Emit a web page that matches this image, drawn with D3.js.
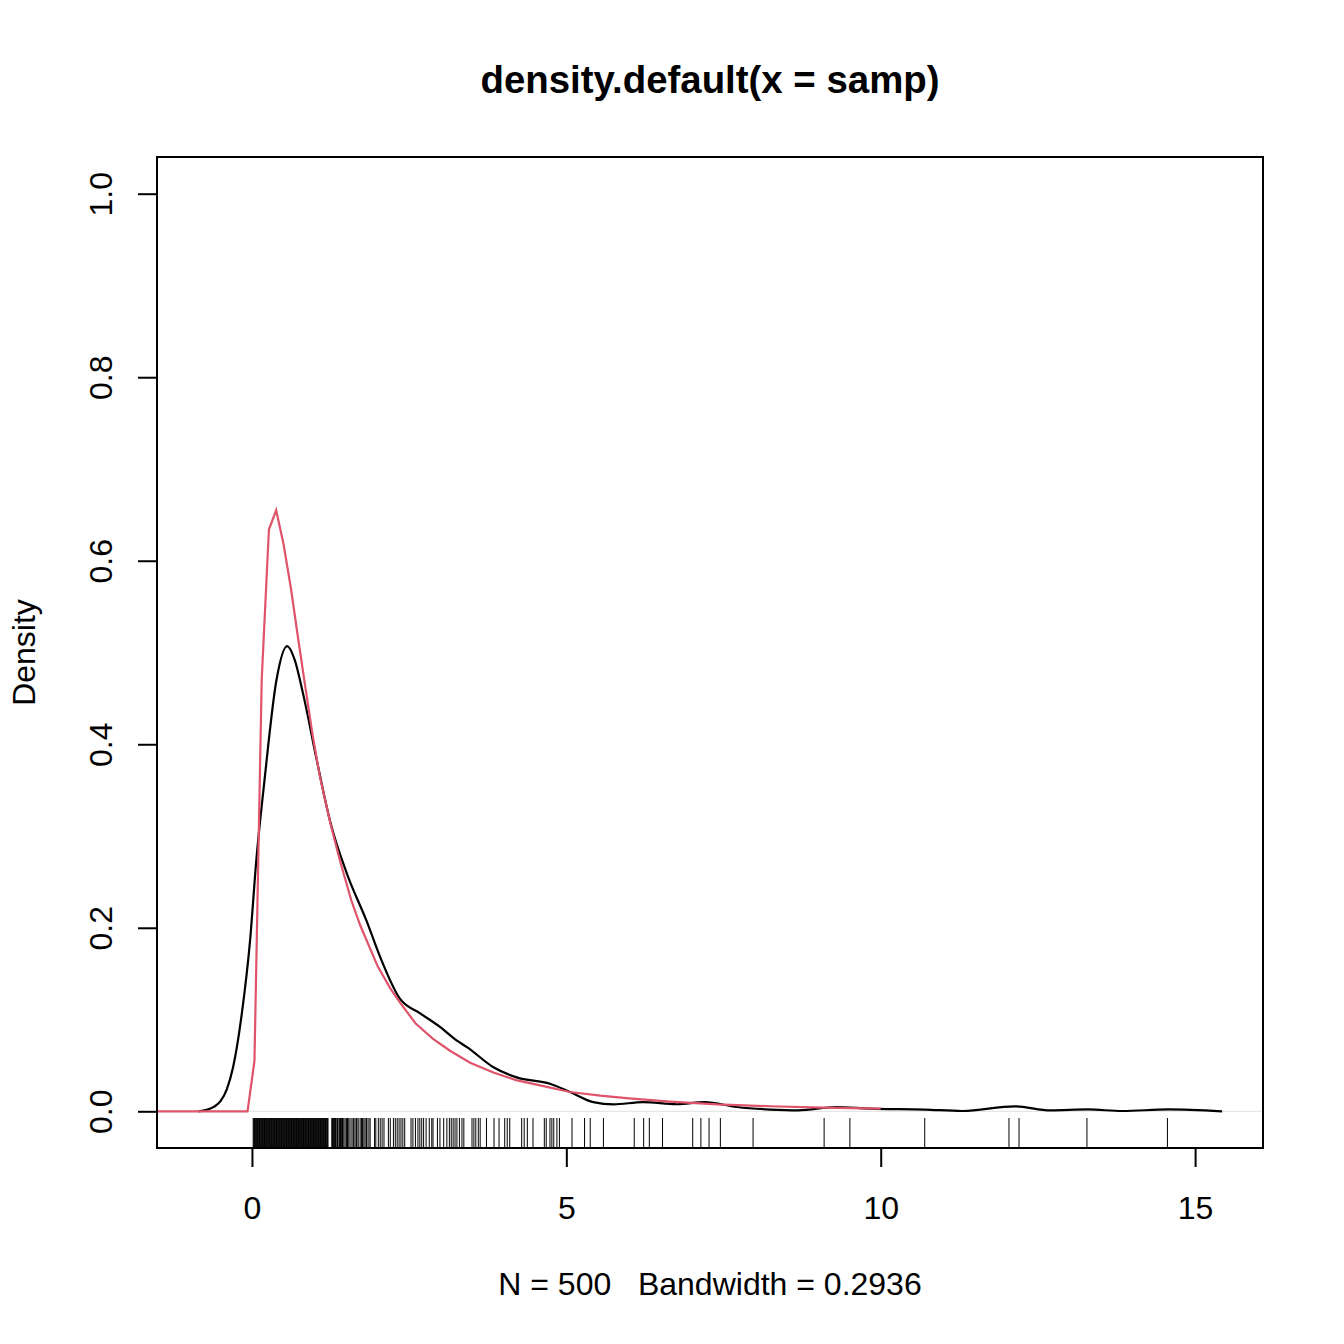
<!DOCTYPE html>
<html lang="en">
<head>
    <meta charset="UTF-8">
    <title>density.default(x = samp)</title>
    <script src="https://cdnjs.cloudflare.com/ajax/libs/d3/7.8.5/d3.min.js"></script>
    <style>
        body {
            margin: 0;
            padding: 0;
            background: #fff;
        }
        svg {
            display: block;
            font-family: "Liberation Sans", Arial, Helvetica, sans-serif;
        }
        .tick text {
            font-size: 32px;
            fill: #000;
        }
    </style>
</head>
<body>
    <svg width="1344" height="1344"></svg>
    <script>
        // kernel density estimate (black)
        const densX = [-0.85, -0.72, -0.60, -0.50, -0.40, -0.30, -0.16, -0.03, 0.07, 0.20, 0.39, 0.56, 0.68, 0.81, 1.03, 1.24, 1.51, 1.82, 2.04, 2.35, 2.67, 2.99, 3.26, 3.42, 3.84, 4.21, 4.74, 5.06, 5.43, 5.75, 6.22, 6.76, 7.20, 7.71, 8.24, 8.69, 9.29, 9.82, 10.70, 11.30, 12.13, 12.70, 13.30, 13.84, 14.57, 15.43];
        const densY = [0, 0.0015, 0.005, 0.011, 0.024, 0.048, 0.107, 0.186, 0.274, 0.361, 0.470, 0.507, 0.492, 0.456, 0.383, 0.317, 0.259, 0.208, 0.168, 0.123, 0.107, 0.092, 0.077, 0.070, 0.048, 0.037, 0.030, 0.021, 0.010, 0.0075, 0.010, 0.0077, 0.010, 0.0047, 0.0019, 0.001, 0.0047, 0.003, 0.0019, 0.0003, 0.0054, 0.001, 0.002, 0.0003, 0.002, 0];

        // reference curve (red)
        const curveX = [-1.51, -0.07, 0.04, 0.155, 0.27, 0.385, 0.50, 0.62, 0.735, 0.85, 0.965, 1.08, 1.25, 1.40, 1.58, 1.72, 2.00, 2.20, 2.35, 2.60, 2.88, 3.15, 3.47, 3.85, 4.20, 4.60, 5.06, 5.54, 6.00, 6.65, 7.40, 8.24, 9.10, 10.0];
        const curveY = [0, 0, 0.055, 0.470, 0.634, 0.655, 0.619, 0.570, 0.515, 0.462, 0.410, 0.365, 0.313, 0.273, 0.230, 0.203, 0.158, 0.134, 0.119, 0.096, 0.079, 0.066, 0.053, 0.042, 0.034, 0.028, 0.021, 0.017, 0.014, 0.0105, 0.0075, 0.0055, 0.004, 0.003];

        // rug of the sample (dense part estimated as a solid band)
        const rugX = [0.02, 0.03, 0.04, 0.05, 0.06, 0.07, 0.08, 0.09, 0.10, 0.11, 0.12, 0.13, 0.14, 0.15, 0.16, 0.17, 0.18, 0.19, 0.20, 0.21, 0.22, 0.23, 0.24, 0.25, 0.26, 0.27, 0.28, 0.29, 0.30, 0.31, 0.32, 0.33, 0.34, 0.35, 0.36, 0.37, 0.38, 0.39, 0.40, 0.41, 0.42, 0.43, 0.44, 0.45, 0.46, 0.47, 0.48, 0.49, 0.50, 0.51, 0.52, 0.53, 0.54, 0.55, 0.56, 0.57, 0.58, 0.59, 0.60, 0.61, 0.62, 0.63, 0.64, 0.65, 0.66, 0.67, 0.68, 0.69, 0.70, 0.71, 0.72, 0.73, 0.74, 0.75, 0.76, 0.77, 0.78, 0.79, 0.80, 0.81, 0.82, 0.83, 0.84, 0.85, 0.86, 0.87, 0.88, 0.89, 0.90, 0.91, 0.92, 0.93, 0.94, 0.95, 0.96, 0.97, 0.98, 0.99, 1.00, 1.01, 1.02, 1.03, 1.04, 1.05, 1.06, 1.07, 1.08, 1.09, 1.10, 1.11, 1.12, 1.13, 1.14, 1.15, 1.16, 1.17, 1.18, 1.19, 1.20, 1.21,
            1.27, 1.28, 1.29, 1.30, 1.31, 1.32, 1.33, 1.34, 1.36, 1.37, 1.39, 1.40, 1.41, 1.42, 1.43, 1.44, 1.46, 1.48, 1.50, 1.51, 1.52, 1.54, 1.56, 1.59, 1.61, 1.62, 1.64, 1.66, 1.67, 1.69, 1.72, 1.74, 1.75, 1.76, 1.78, 1.80, 1.82, 1.83, 1.86, 1.88,
            1.95, 1.97, 2.01, 2.04, 2.07, 2.10, 2.17, 2.20, 2.25, 2.28, 2.31, 2.34, 2.37, 2.40, 2.43, 2.53, 2.56, 2.60, 2.64, 2.67, 2.70, 2.73, 2.77, 2.82, 2.86, 2.88, 2.95, 2.99, 3.05, 3.10, 3.14, 3.17, 3.20, 3.23, 3.26, 3.30, 3.34, 3.37, 3.50, 3.53, 3.56, 3.60, 3.63, 3.73, 3.85, 3.93, 4.02, 4.06, 4.10, 4.29, 4.33, 4.38, 4.47, 4.65, 4.68, 4.74, 4.77, 4.80, 4.85, 4.89, 5.09, 5.29, 5.38, 5.59, 6.08, 6.23, 6.32, 6.53, 7.01, 7.14, 7.27, 7.45, 7.97, 9.10, 9.51, 10.70, 12.04, 12.20, 13.28, 14.56];

        const xTicks = [0, 5, 10, 15];
        const yTicks = [0, 0.2, 0.4, 0.6, 0.8, 1.0];

        const plotLeft = 157, plotRight = 1263, plotTop = 157, plotBottom = 1148;

        const x = d3.scaleLinear().domain([-1.51, 16.08]).range([plotLeft, plotRight]);
        const y = d3.scaleLinear().domain([-0.04, 1.04]).range([plotBottom, plotTop]);

        const svg = d3.select("svg");

        // zero line
        svg.append("line")
            .attr("x1", plotLeft).attr("x2", plotRight)
            .attr("y1", y(0)).attr("y2", y(0))
            .attr("stroke", "#e0e0e0")
            .attr("stroke-width", 1);

        const line = d3.line().x(d => x(d[0])).y(d => y(d[1]));

        svg.append("path")
            .datum(densX.map((v, i) => [v, densY[i]]))
            .attr("d", line.curve(d3.curveMonotoneX))
            .attr("fill", "none")
            .attr("stroke", "#000")
            .attr("stroke-width", 2.2);

        svg.append("path")
            .datum(curveX.map((v, i) => [v, curveY[i]]))
            .attr("d", d3.line().x(d => x(d[0])).y(d => y(d[1])))
            .attr("fill", "none")
            .attr("stroke", "#DF536B")
            .attr("stroke-width", 2.2);

        // rug
        svg.append("g")
            .selectAll("line")
            .data(rugX)
            .enter().append("line")
            .attr("x1", d => x(d)).attr("x2", d => x(d))
            .attr("y1", plotBottom).attr("y2", plotBottom - 30)
            .attr("stroke", "#000")
            .attr("stroke-width", 1);

        // box
        svg.append("rect")
            .attr("x", plotLeft).attr("y", plotTop)
            .attr("width", plotRight - plotLeft).attr("height", plotBottom - plotTop)
            .attr("fill", "none")
            .attr("stroke", "#000")
            .attr("stroke-width", 2);

        // axes
        const gx = svg.append("g")
            .attr("transform", `translate(0,${plotBottom})`)
            .call(d3.axisBottom(x).tickValues(xTicks).tickSize(19).tickPadding(29).tickFormat(d3.format("d")));
        gx.select(".domain").remove();
        gx.attr("font-family", null).attr("font-size", null);
        gx.selectAll(".tick line").attr("stroke", "#000").attr("stroke-width", 2);

        const gy = svg.append("g")
            .attr("transform", `translate(${plotLeft},0)`)
            .call(d3.axisLeft(y).tickValues(yTicks).tickSize(19).tickFormat(d3.format(".1f")));
        gy.select(".domain").remove();
        gy.attr("font-family", null).attr("font-size", null);
        gy.selectAll(".tick line").attr("stroke", "#000").attr("stroke-width", 2);
        gy.selectAll(".tick text")
            .attr("x", null).attr("dy", null)
            .attr("text-anchor", "middle")
            .attr("transform", `translate(${112 - plotLeft},0) rotate(-90)`);

        // titles
        svg.append("text")
            .attr("x", (plotLeft + plotRight) / 2).attr("y", 93)
            .attr("text-anchor", "middle")
            .attr("font-size", 38.4)
            .attr("font-weight", "bold")
            .text("density.default(x = samp)");

        svg.append("text")
            .attr("x", (plotLeft + plotRight) / 2).attr("y", 1295)
            .attr("text-anchor", "middle")
            .attr("font-size", 32)
            .style("white-space", "pre")
            .text("N = 500   Bandwidth = 0.2936");

        svg.append("text")
            .attr("transform", `translate(35,${(plotTop + plotBottom) / 2}) rotate(-90)`)
            .attr("text-anchor", "middle")
            .attr("font-size", 32)
            .text("Density");
    </script>
</body>
</html>
